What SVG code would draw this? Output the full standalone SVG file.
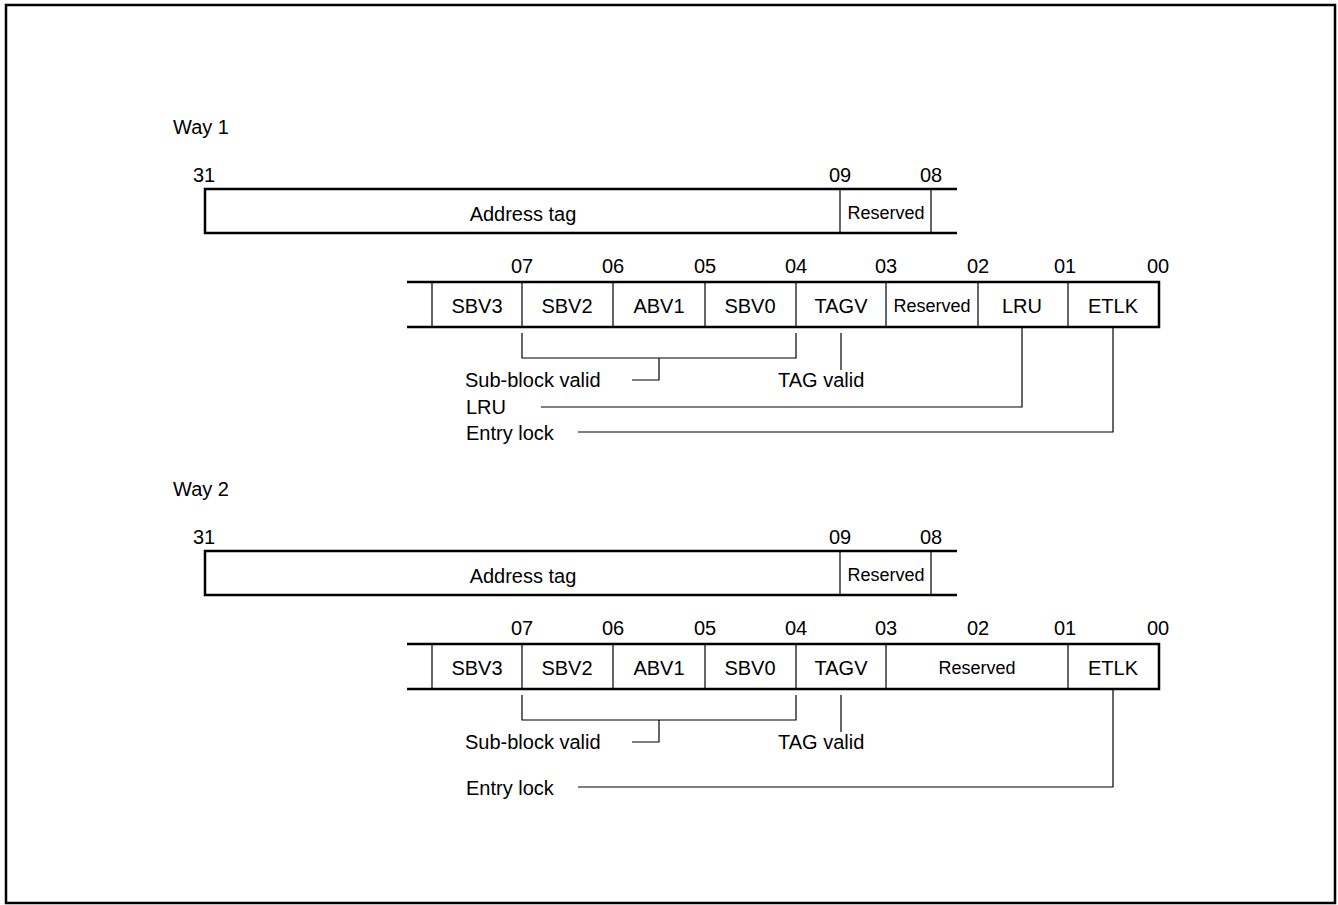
<svg xmlns="http://www.w3.org/2000/svg" width="1338" height="905" viewBox="0 0 1338 905">
<style>
text{font-family:"Liberation Sans",Arial,sans-serif;font-size:20px;fill:#000}
.c{text-anchor:middle}
.s{font-size:18px}
.thick{stroke:#000;stroke-width:2.5;fill:none}
.thin{stroke:#000;stroke-width:1.2;fill:none}
</style>
<rect x="6" y="5" width="1329" height="898" fill="#fff" stroke="#000" stroke-width="2.5"/>

<g id="way1">
<text x="173" y="134">Way 1</text>
<g id="way1-address">
<text class="c" x="204" y="182">31</text>
<text class="c" x="840" y="182">09</text>
<text class="c" x="931" y="182">08</text>
<path class="thick" d="M957,189 H205 V233 H957"/>
<path class="thin" d="M840,189 V233 M931,189 V233"/>
<text class="c" x="523" y="221">Address tag</text>
<text class="c s" x="886" y="219">Reserved</text>
</g>
<g id="way1-flags">
<text class="c" x="522" y="273">07</text>
<text class="c" x="613" y="273">06</text>
<text class="c" x="705" y="273">05</text>
<text class="c" x="796" y="273">04</text>
<text class="c" x="886" y="273">03</text>
<text class="c" x="978" y="273">02</text>
<text class="c" x="1065" y="273">01</text>
<text class="c" x="1158" y="273">00</text>
<path class="thick" d="M407,282 H1159 V327 H407"/>
<path class="thin" d="M432,282 V327 M522,282 V327 M613,282 V327 M705,282 V327 M796,282 V327 M886,282 V327 M978,282 V327 M1068,282 V327"/>
<text class="c" x="477" y="313">SBV3</text>
<text class="c" x="567" y="313">SBV2</text>
<text class="c" x="659" y="313">ABV1</text>
<text class="c" x="750" y="313">SBV0</text>
<text class="c" x="841" y="313">TAGV</text>
<text class="c s" x="932" y="312">Reserved</text>
<text class="c" x="1022" y="313">LRU</text>
<text class="c" x="1113" y="313">ETLK</text>
</g>
<g id="way1-labels">
<text x="465" y="387">Sub-block valid</text>
<text x="778" y="387">TAG valid</text>
<text x="466" y="414">LRU</text>
<text x="466" y="440">Entry lock</text>
</g>
</g>

<g id="way2">
<text x="173" y="496">Way 2</text>
<g id="way2-address">
<text class="c" x="204" y="544">31</text>
<text class="c" x="840" y="544">09</text>
<text class="c" x="931" y="544">08</text>
<path class="thick" d="M957,551 H205 V595 H957"/>
<path class="thin" d="M840,551 V595 M931,551 V595"/>
<text class="c" x="523" y="583">Address tag</text>
<text class="c s" x="886" y="581">Reserved</text>
</g>
<g id="way2-flags">
<text class="c" x="522" y="635">07</text>
<text class="c" x="613" y="635">06</text>
<text class="c" x="705" y="635">05</text>
<text class="c" x="796" y="635">04</text>
<text class="c" x="886" y="635">03</text>
<text class="c" x="978" y="635">02</text>
<text class="c" x="1065" y="635">01</text>
<text class="c" x="1158" y="635">00</text>
<path class="thick" d="M407,644 H1159 V689 H407"/>
<path class="thin" d="M432,644 V689 M522,644 V689 M613,644 V689 M705,644 V689 M796,644 V689 M886,644 V689 M1068,644 V689"/>
<text class="c" x="477" y="675">SBV3</text>
<text class="c" x="567" y="675">SBV2</text>
<text class="c" x="659" y="675">ABV1</text>
<text class="c" x="750" y="675">SBV0</text>
<text class="c" x="841" y="675">TAGV</text>
<text class="c s" x="977" y="674">Reserved</text>
<text class="c" x="1113" y="675">ETLK</text>
</g>
<g id="way2-labels">
<text x="465" y="749">Sub-block valid</text>
<text x="778" y="749">TAG valid</text>
<text x="466" y="795">Entry lock</text>
</g>
</g>

<g id="connectors" class="thin">
<path class="thin" d="M522,333 V358 H796 V333"/>
<path class="thin" d="M659,358 V380 H632"/>
<path class="thin" d="M841,333 V370"/>
<path class="thin" d="M1022,327 V407 H541"/>
<path class="thin" d="M1113,327 V432 H578"/>
<path class="thin" d="M522,695 V720 H796 V695"/>
<path class="thin" d="M659,720 V742 H632"/>
<path class="thin" d="M841,695 V732"/>
<path class="thin" d="M1113,689 V787 H578"/>
</g>
</svg>
